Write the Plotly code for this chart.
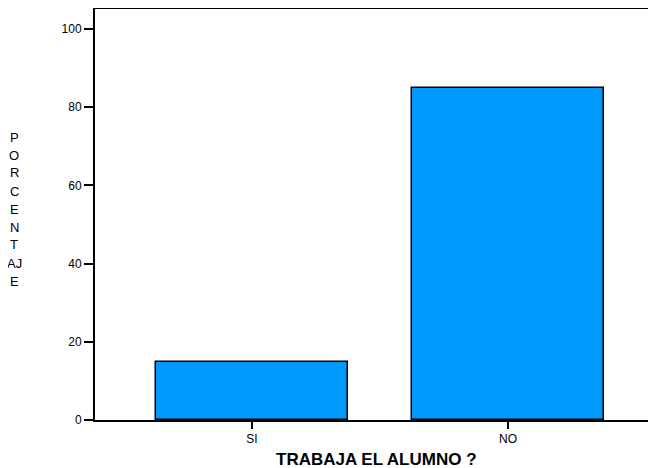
import plotly.graph_objects as go

categories = ["SI", "NO"]
values = [14.9, 84.8]
y_title_lines = ["P", "O", "R", "C", "E", "N", "T", "AJ", "E"]
x_title = "TRABAJA EL ALUMNO ?"
y_ticks = [0, 20, 40, 60, 80, 100]

OFF = 8  # page body margin
W, H = 656 - OFF, 468 - OFF
L, R, T, B = 95 - OFF, 0, 9 - OFF, 48

fig = go.Figure(go.Bar(
    x=[0, 1], y=values, width=0.75,
    marker=dict(color="#0099FF", line=dict(color="black", width=1.5)),
))

fig.update_layout(
    width=W, height=H, margin=dict(l=L, r=R, t=T, b=B, pad=0),
    paper_bgcolor="white", plot_bgcolor="white", showlegend=False,
    font=dict(family="Liberation Sans, Arial, sans-serif", size=12, color="black"),
    bargap=0,
)
fig.update_xaxes(
    range=[-0.613, 1.578], tickvals=[0, 1], ticktext=categories,
    showline=True, linecolor="black", linewidth=2, mirror=True,
    ticks="outside", ticklen=7, tickwidth=2, tickcolor="black",
    showgrid=False, zeroline=False, tickfont=dict(size=12),
)
fig.update_yaxes(
    range=[0, 105.1], tickvals=y_ticks,
    showline=True, linecolor="black", linewidth=2,
    ticks="outside", ticklen=9, tickwidth=2, tickcolor="black",
    showgrid=False, zeroline=False, tickfont=dict(size=12),
)

ph = H - T - B
pw = W - L - R
for i, s in enumerate(y_title_lines):
    fig.add_annotation(
        text=s, xref="paper", yref="paper",
        x=(14 - OFF - L) / pw, y=1 - (137 + 18 * i - OFF - T) / ph,
        xanchor="center", yanchor="middle", showarrow=False,
        font=dict(size=13),
    )

fig.add_annotation(
    text="<b>" + x_title + "</b>", xref="paper", yref="paper",
    x=(376 - OFF - L) / pw, y=1 - (459 - OFF - T) / ph,
    xanchor="center", yanchor="middle", showarrow=False,
    font=dict(size=17),
)

fig.write_html("out.html")
